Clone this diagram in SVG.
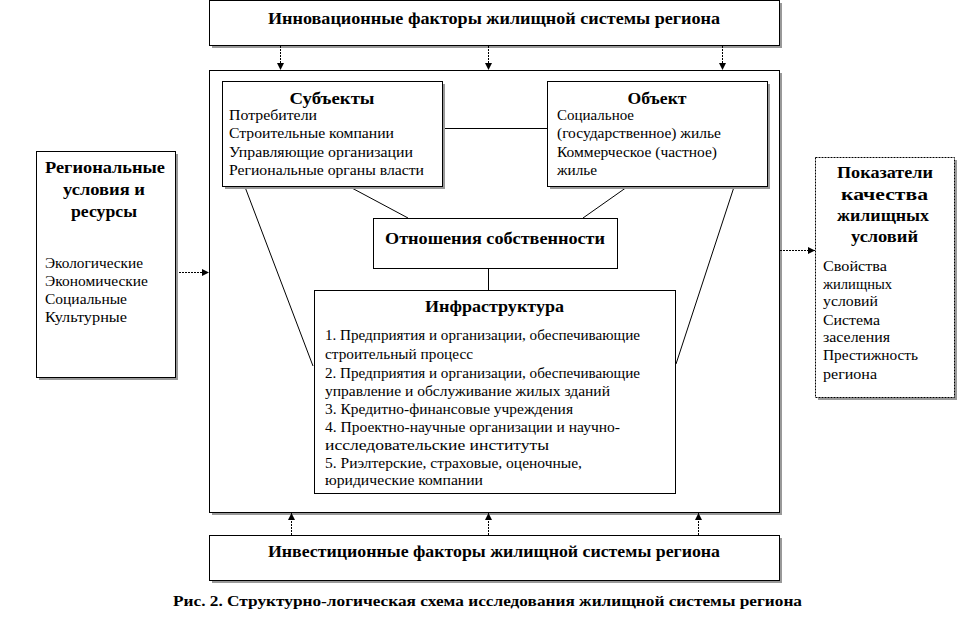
<svg xmlns="http://www.w3.org/2000/svg" width="963" height="619" viewBox="0 0 963 619">
<defs>
<marker id="ah" markerWidth="8" markerHeight="8" refX="7" refY="4" orient="auto" markerUnits="userSpaceOnUse">
<path d="M0,0.5 L7,4 L0,7.5 Z" fill="#000"/>
</marker>
</defs>
<style>
.box{fill:#fff;stroke:#000;stroke-width:1}
.sh{fill:#999}
text{font-family:"Liberation Serif","Times New Roman","DejaVu Serif",serif;fill:#000}
.t{font-size:16px;font-weight:bold;text-anchor:middle}
.b{font-size:14px}
.ln{stroke:#000;stroke-width:1;fill:none}
.ar{stroke:#000;stroke-width:1;fill:none;stroke-dasharray:2,1;marker-end:url(#ah)}
</style>
<rect width="963" height="619" fill="#fff"/>

<g id="innov">
<rect class="sh" x="212" y="3" width="570" height="45"/>
<rect class="box" x="209.5" y="0.5" width="570" height="45"/>
<text class="t" x="494" y="24" textLength="452" lengthAdjust="spacingAndGlyphs">Инновационные факторы жилищной системы региона</text>
</g>

<g id="system">
<rect class="sh" x="212" y="73" width="570" height="442"/>
<rect class="box" x="209.5" y="70.5" width="570" height="442"/>
</g>

<g id="connectors">
<line class="ln" x1="443" y1="128.5" x2="547" y2="128.5"/>
<line class="ln" x1="245" y1="187" x2="313" y2="366"/>
<line class="ln" x1="350" y1="187" x2="408" y2="218"/>
<line class="ln" x1="627" y1="187" x2="583" y2="218"/>
<line class="ln" x1="734" y1="187" x2="676" y2="364"/>
<line class="ln" x1="488.5" y1="268" x2="488.5" y2="290"/>
<line class="ar" x1="280.5" y1="46" x2="280.5" y2="70"/>
<line class="ar" x1="488.5" y1="46" x2="488.5" y2="70"/>
<line class="ar" x1="722.5" y1="46" x2="722.5" y2="70"/>
<line class="ar" x1="291.5" y1="535" x2="291.5" y2="513"/>
<line class="ar" x1="488.5" y1="535" x2="488.5" y2="513"/>
<line class="ar" x1="698.5" y1="535" x2="698.5" y2="513"/>
<line class="ar" x1="176" y1="272.5" x2="209" y2="272.5"/>
<line class="ar" x1="780" y1="250.5" x2="815" y2="250.5"/>
</g>

<g id="subjects">
<rect class="sh" x="225" y="84" width="220" height="105"/>
<rect class="box" x="222.5" y="81.5" width="220" height="105"/>
<text class="t" x="332" y="104" textLength="85" lengthAdjust="spacingAndGlyphs">Субъекты</text>
<text class="b" x="229" y="120" textLength="88" lengthAdjust="spacingAndGlyphs">Потребители</text>
<text class="b" x="229" y="138" textLength="165" lengthAdjust="spacingAndGlyphs">Строительные компании</text>
<text class="b" x="229" y="157" textLength="184" lengthAdjust="spacingAndGlyphs">Управляющие организации</text>
<text class="b" x="229" y="175" textLength="195" lengthAdjust="spacingAndGlyphs">Региональные органы власти</text>
</g>

<g id="object">
<rect class="sh" x="550" y="84" width="220" height="105"/>
<rect class="box" x="547.5" y="81.5" width="220" height="105"/>
<text class="t" x="657" y="104" textLength="59" lengthAdjust="spacingAndGlyphs">Объект</text>
<text class="b" x="557" y="120" textLength="77" lengthAdjust="spacingAndGlyphs">Социальное</text>
<text class="b" x="557" y="138" textLength="164" lengthAdjust="spacingAndGlyphs">(государственное) жилье</text>
<text class="b" x="557" y="157" textLength="160" lengthAdjust="spacingAndGlyphs">Коммерческое (частное)</text>
<text class="b" x="557" y="175" textLength="40" lengthAdjust="spacingAndGlyphs">жилье</text>
</g>

<g id="ownership">
<rect class="box" x="373.5" y="218.5" width="244" height="50"/>
<text class="t" x="495" y="244" textLength="220" lengthAdjust="spacingAndGlyphs">Отношения собственности</text>
</g>

<g id="infra">
<rect class="box" x="314.5" y="290.5" width="361" height="203"/>
<text class="t" x="494.5" y="312" textLength="139" lengthAdjust="spacingAndGlyphs">Инфраструктура</text>
<text class="b" x="325" y="340" textLength="315" lengthAdjust="spacingAndGlyphs">1. Предприятия и организации, обеспечивающие</text>
<text class="b" x="325" y="359" textLength="148" lengthAdjust="spacingAndGlyphs">строительный процесс</text>
<text class="b" x="325" y="378" textLength="315" lengthAdjust="spacingAndGlyphs">2. Предприятия и организации, обеспечивающие</text>
<text class="b" x="325" y="396" textLength="285" lengthAdjust="spacingAndGlyphs">управление и обслуживание жилых зданий</text>
<text class="b" x="325" y="414" textLength="248" lengthAdjust="spacingAndGlyphs">3. Кредитно-финансовые учреждения</text>
<text class="b" x="325" y="432" textLength="295" lengthAdjust="spacingAndGlyphs">4. Проектно-научные организации и научно-</text>
<text class="b" x="325" y="450" textLength="224" lengthAdjust="spacingAndGlyphs">исследовательские институты</text>
<text class="b" x="325" y="468" textLength="257" lengthAdjust="spacingAndGlyphs">5. Риэлтерские, страховые, оценочные,</text>
<text class="b" x="325" y="485" textLength="158" lengthAdjust="spacingAndGlyphs">юридические компании</text>
</g>

<g id="regional">
<rect class="sh" x="39" y="154" width="139" height="226"/>
<rect class="box" x="36.5" y="151.5" width="139" height="226"/>
<text class="t" x="105" y="173" textLength="120" lengthAdjust="spacingAndGlyphs">Региональные</text>
<text class="t" x="104" y="195" textLength="82" lengthAdjust="spacingAndGlyphs">условия и</text>
<text class="t" x="104" y="217" textLength="66" lengthAdjust="spacingAndGlyphs">ресурсы</text>
<text class="b" x="45" y="268" textLength="98" lengthAdjust="spacingAndGlyphs">Экологические</text>
<text class="b" x="45" y="286" textLength="103" lengthAdjust="spacingAndGlyphs">Экономические</text>
<text class="b" x="45" y="304" textLength="82" lengthAdjust="spacingAndGlyphs">Социальные</text>
<text class="b" x="45" y="322" textLength="82" lengthAdjust="spacingAndGlyphs">Культурные</text>
</g>

<g id="indicators">
<rect class="sh" x="818" y="160" width="139" height="240"/>
<rect class="box" x="815.5" y="157.5" width="139" height="240" stroke-dasharray="2,1"/>
<text class="t" x="885" y="178" textLength="96" lengthAdjust="spacingAndGlyphs">Показатели</text>
<text class="t" x="884.5" y="200" textLength="87" lengthAdjust="spacingAndGlyphs">качества</text>
<text class="t" x="883" y="221" textLength="92" lengthAdjust="spacingAndGlyphs">жилищных</text>
<text class="t" x="884.5" y="242" textLength="67" lengthAdjust="spacingAndGlyphs">условий</text>
<text class="b" x="823" y="271" textLength="64" lengthAdjust="spacingAndGlyphs">Свойства</text>
<text class="b" x="823" y="289" textLength="69" lengthAdjust="spacingAndGlyphs">жилищных</text>
<text class="b" x="823" y="306" textLength="55" lengthAdjust="spacingAndGlyphs">условий</text>
<text class="b" x="823" y="325" textLength="57" lengthAdjust="spacingAndGlyphs">Система</text>
<text class="b" x="823" y="342" textLength="67" lengthAdjust="spacingAndGlyphs">заселения</text>
<text class="b" x="823" y="360" textLength="95" lengthAdjust="spacingAndGlyphs">Престижность</text>
<text class="b" x="823" y="379" textLength="54" lengthAdjust="spacingAndGlyphs">региона</text>
</g>

<g id="invest">
<rect class="sh" x="212" y="538" width="570" height="45"/>
<rect class="box" x="209.5" y="535.5" width="570" height="45"/>
<text class="t" x="494" y="557" textLength="452" lengthAdjust="spacingAndGlyphs">Инвестиционные факторы жилищной системы региона</text>
</g>

<text class="t" x="487.5" y="606" style="font-size:15px" textLength="629" lengthAdjust="spacingAndGlyphs">Рис. 2. Структурно-логическая схема исследования жилищной системы региона</text>
</svg>
